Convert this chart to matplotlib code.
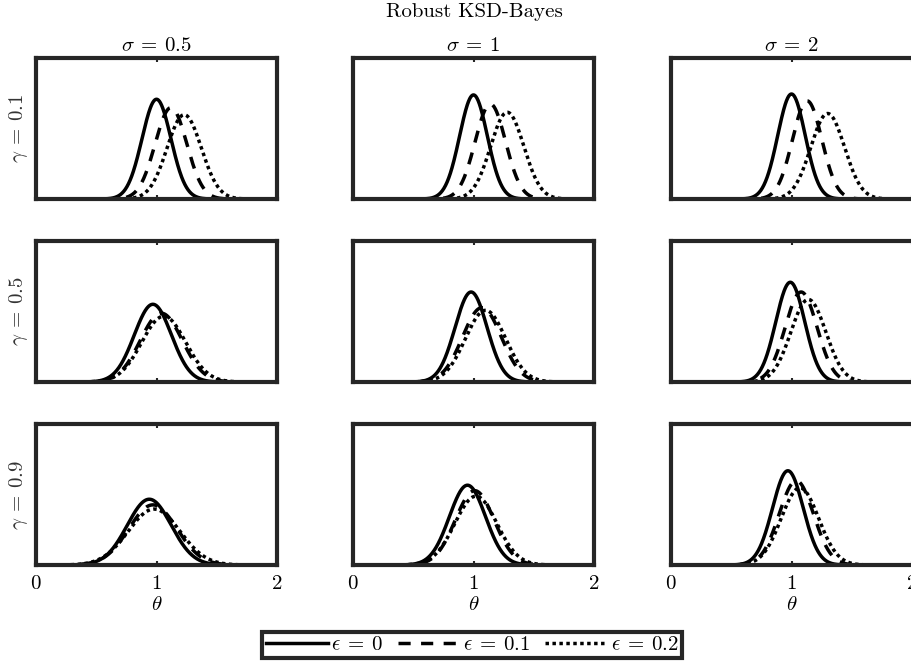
import numpy as np
import matplotlib.pyplot as plt
from matplotlib.lines import Line2D

plt.rcParams.update({
    'font.family': 'serif',
    'font.serif': ['cmr10'],
    'mathtext.fontset': 'cm',
    'axes.unicode_minus': False,
    'axes.formatter.use_mathtext': True,
})

# grid labels
sigmas = ['0.5', '1', '2']
gammas = ['0.1', '0.5', '0.9']
eps = ['0', '0.1', '0.2']

# posterior location / spread: [gamma][sigma][eps]
means = [
    [[1.00, 1.12, 1.23], [1.00, 1.14, 1.28], [1.00, 1.13, 1.30]],
    [[0.97, 1.04, 1.06], [0.98, 1.07, 1.10], [0.99, 1.08, 1.14]],
    [[0.94, 0.97, 0.98], [0.95, 1.01, 1.02], [0.97, 1.04, 1.07]],
]
sds = [
    [[0.120, 0.131, 0.142], [0.115, 0.126, 0.138], [0.114, 0.122, 0.140]],
    [[0.154, 0.174, 0.182], [0.133, 0.161, 0.167], [0.120, 0.133, 0.145]],
    [[0.182, 0.199, 0.214], [0.150, 0.161, 0.174], [0.127, 0.142, 0.155]],
]

styles = [dict(ls='-'), dict(ls=(0, (3.5, 3))), dict(ls=(0, (1, 1)))]
lw = 2.5
frame = '#262626'
fs = 15

theta = np.linspace(0, 2, 600)

W, H = 911, 666
fig = plt.figure(figsize=(W / 100, H / 100), dpi=100)

# axes boxes in pixels
lefts = [36, 353, 671]
bots = [199, 382, 565]
aw, ah = 241, 141

for i in range(3):
    for j in range(3):
        ax = fig.add_axes([lefts[j] / W, 1 - bots[i] / H, aw / W, ah / H])
        for k in range(3):
            m, s = means[i][j][k], sds[i][j][k]
            dens = np.exp(-0.5 * ((theta - m) / s) ** 2) / (s * np.sqrt(2 * np.pi))
            ax.plot(theta, dens, color='black', lw=lw, dash_capstyle='butt', **styles[k])
        ax.set_xlim(0, 2)
        ax.set_ylim(0, 4.7)
        ax.set_yticks([])
        ax.set_xticks([0, 1, 2])
        ax.tick_params(axis='x', direction='in', top=True, length=3, width=1.5,
                       color=frame, labelsize=fs, pad=7)
        for sp in ax.spines.values():
            sp.set_linewidth(3)
            sp.set_color(frame)
        if i == 0:
            ax.set_title(r'$\sigma \:=\: %s$' % sigmas[j], fontsize=fs, pad=5)
        if j == 0:
            ax.set_ylabel(r'$\gamma \:=\: %s$' % gammas[i], fontsize=fs, labelpad=4, color='#333333')
        if i == 2:
            ax.set_xlabel(r'$\theta$', fontsize=fs, labelpad=2)
        else:
            ax.tick_params(labelbottom=False)

fig.text(474 / W, 1 - 12 / H, 'Robust KSD-Bayes', ha='center', va='center', fontsize=fs)

handles = [Line2D([], [], color='black', lw=lw, dash_capstyle='butt', **st) for st in styles]
labels = [r'$\epsilon \:=\: %s$' % e for e in eps]
leg = fig.legend(handles, labels, loc='center', bbox_to_anchor=(472 / W, 1 - 645 / H),
                 ncol=3, fontsize=fs, handlelength=3.0, handletextpad=0.15,
                 columnspacing=0.7, borderpad=0.2, fancybox=False, framealpha=1)
leg.get_frame().set_edgecolor(frame)
leg.get_frame().set_linewidth(3)

fig.savefig('out.png', dpi=100)
